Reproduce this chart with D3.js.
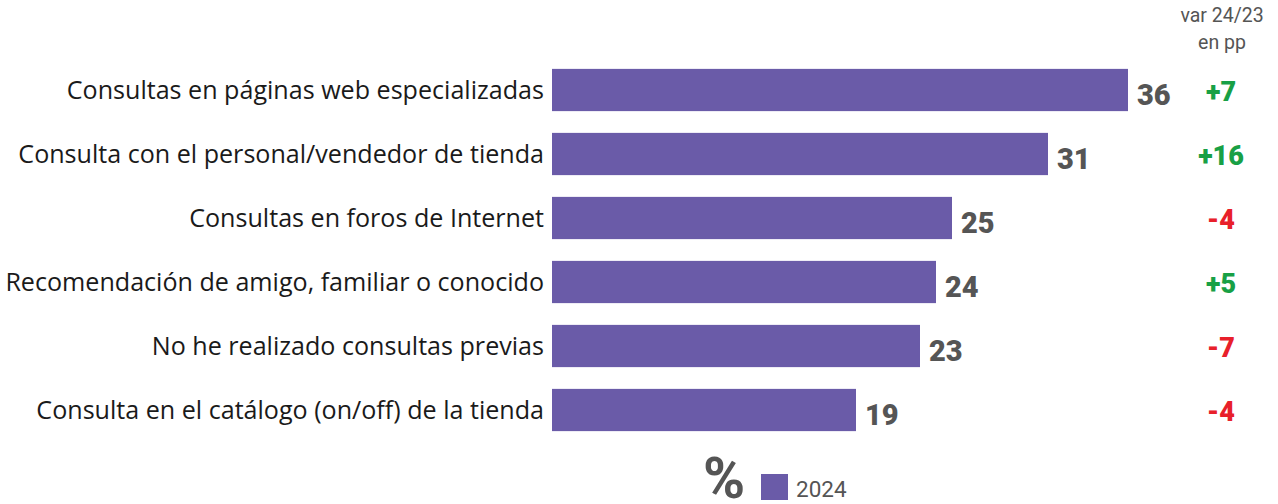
<!DOCTYPE html>
<html><head><meta charset="utf-8">
<script src="https://cdn.jsdelivr.net/npm/d3@7"></script>
<style>body{margin:0;background:#fff}svg{display:block}</style>
</head><body>
<svg id="c" width="1278" height="504"></svg>
<script>
const categories = [
  "Consultas en páginas web especializadas",
  "Consulta con el personal/vendedor de tienda",
  "Consultas en foros de Internet",
  "Recomendación de amigo, familiar o conocido",
  "No he realizado consultas previas",
  "Consulta en el catálogo (on/off) de la tienda"
];
const values2024 = [36, 31, 25, 24, 23, 19];
const varLabels = ["+7", "+16", "-4", "+5", "-7", "-4"];
const seriesName = "2024";
const headerLines = ["var 24/23", "en pp"];

const svg = d3.select("#c");
const barColor = "#6a5ba8", grey = "#555555";
const x = d3.scaleLinear().domain([0, 36]).range([552, 1128]);
const y = d3.scaleBand().domain(categories).range([58, 442]).paddingInner(0.34).paddingOuter(0.17);
const font = "'Open Sans', sans-serif";

const rows = svg.selectAll("g.row").data(categories).join("g").attr("class","row");
rows.append("rect")
  .attr("x", x(0)).attr("y", d => y(d))
  .attr("width", (d,i) => x(values2024[i]) - x(0))
  .attr("height", y.bandwidth()).attr("fill", barColor);
rows.append("text")
  .attr("x", 544).attr("y", d => y(d) + y.bandwidth()/2)
  .attr("dy", "0.35em").attr("text-anchor","end")
  .attr("font-family", font).attr("font-size", 25.1).attr("fill","#1a1a1a")
  .text(d => d);
rows.append("text")
  .attr("x", (d,i) => x(values2024[i]) + 9).attr("y", d => y(d) + y.bandwidth()/2 + 5)
  .attr("dy", "0.35em")
  .attr("font-family", "Roboto, sans-serif").attr("font-weight", 900).attr("font-size", 29).attr("fill", grey)
  .text((d,i) => values2024[i]);
rows.append("text")
  .attr("x", 1221).attr("y", d => y(d) + y.bandwidth()/2 + 2)
  .attr("dy", "0.35em").attr("text-anchor","middle")
  .attr("font-family", "Roboto, sans-serif").attr("font-weight", 900).attr("font-size", 27)
  .attr("fill", (d,i) => varLabels[i].startsWith("-") ? "#e8202a" : "#18a045")
  .text((d,i) => varLabels[i]);

svg.selectAll("text.hdr").data(headerLines).join("text").attr("class","hdr")
  .attr("x", 1222).attr("y", (d,i) => 15 + i*27).attr("dy","0.35em").attr("text-anchor","middle")
  .attr("font-family", "Roboto, sans-serif").attr("font-size", 19.5).attr("fill", grey)
  .text(d => d);

svg.append("text").attr("x", 724).attr("y", 498).attr("text-anchor","middle")
  .attr("font-family","Roboto, sans-serif").attr("font-weight",700).attr("font-size",57).attr("fill",grey).text("%");
svg.append("rect").attr("x",761).attr("y",474).attr("width",27).attr("height",26).attr("fill",barColor);
svg.append("text").attr("x",796).attr("y",497)
  .attr("font-family","Roboto, sans-serif").attr("font-size",22.5).attr("fill",grey).text(seriesName);
</script>
</body></html>
